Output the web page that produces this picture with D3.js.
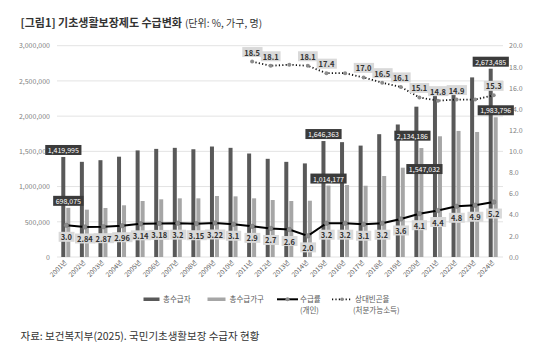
<!DOCTYPE html>
<html><head><meta charset="utf-8">
<script src="https://cdn.jsdelivr.net/npm/d3@7/dist/d3.min.js"></script>
<style>
html,body{margin:0;padding:0;background:#fff;}
svg{display:block;font-family:"Noto Sans CJK KR","Noto Sans",sans-serif;}
</style></head>
<body><svg id="c" width="559" height="359"></svg>
<script>
const years = d3.range(2001, 2025);
const recipients = [1419995,1351185,1374405,1424088,1513352,1534950,1549820,1529939,1568533,1549820,1469254,1394042,1350891,1328713,1646363,1630614,1581646,1743690,1881406,2134186,2400000,2420000,2550000,2673485];
const households = [698075,672000,696000,734000,795000,819000,833000,833000,866000,861000,833000,809000,795000,799000,1014177,1022000,1012000,1150000,1268000,1547032,1714000,1790000,1775000,1983796];
const rate = [3.0,2.84,2.87,2.96,3.14,3.18,3.2,3.15,3.22,3.1,2.9,2.7,2.6,2.0,3.2,3.2,3.1,3.2,3.6,4.1,4.4,4.8,4.9,5.2];
const rateLabels = ["3.0","2.84","2.87","2.96","3.14","3.18","3.2","3.15","3.22","3.1","2.9","2.7","2.6","2.0","3.2","3.2","3.1","3.2","3.6","4.1","4.4","4.8","4.9","5.2"];
const povYears = d3.range(2011, 2025);
const poverty = [18.5,18.1,18.2,18.1,17.4,17.4,17.0,16.5,16.1,15.1,14.8,14.9,14.9,15.3];
const povLabels = ["18.5","18.1",null,"18.1","17.4",null,"17.0","16.5","16.1","15.1","14.8","14.9",null,"15.3"];
const recipLabelYears = [2001, 2015, 2020, 2024];
const houseLabelYears = [2001, 2015, 2020, 2024];
const leftTicks = [0,500000,1000000,1500000,2000000,2500000,3000000];
const rightTicks = [0,2,4,6,8,10,12,14,16,18,20];

const svg = d3.select("#c");
const x = d3.scaleBand().domain(years).range([57, 503]).padding(0);
const yL = d3.scaleLinear().domain([0, 3000000]).range([257, 45.7]);
const yR = d3.scaleLinear().domain([0, 20]).range([257, 45.7]);
const cx = d => x(d) + x.bandwidth()/2;
const KFONT = '"Noto Sans CJK KR","Noto Sans",sans-serif';

// Title
const title = svg.append("text").attr("x", 20.5).attr("y", 27).attr("fill", "#333");
title.append("tspan").attr("font-size", 11).attr("font-weight", 700).text("[그림1] 기초생활보장제도 수급변화");
title.append("tspan").attr("font-size", 10).attr("dx", 3).text("(단위: %, 가구, 명)");

// gridlines
svg.append("g").selectAll("line").data(leftTicks).join("line")
  .attr("x1", 57).attr("x2", 503).attr("y1", d => yL(d)).attr("y2", d => yL(d))
  .attr("stroke", "#e3e3e3").attr("stroke-width", 1);

// left axis
const gl = svg.append("g").attr("transform", "translate(50,0)")
  .call(d3.axisLeft(yL).tickValues(leftTicks).tickSize(0).tickPadding(0).tickFormat(d3.format(",")));
gl.select(".domain").remove();
gl.selectAll("text").attr("font-size", 7).attr("fill", "#808080").attr("font-family", KFONT);

// right axis
const gr = svg.append("g").attr("transform", "translate(509,0)")
  .call(d3.axisRight(yR).tickValues(rightTicks).tickSize(0).tickPadding(0).tickFormat(d3.format(".1f")));
gr.select(".domain").remove();
gr.selectAll("text").attr("font-size", 7).attr("fill", "#808080").attr("font-family", KFONT);

// x labels
svg.append("g").selectAll("text").data(years).join("text")
  .attr("transform", d => `translate(${cx(d)+1},${263}) rotate(-45)`)
  .attr("text-anchor", "end").attr("font-size", 6.5).attr("fill", "#595959")
  .text(d => d + "년");

// bars
svg.append("g").selectAll("rect").data(years).join("rect")
  .attr("x", d => cx(d) - 5).attr("width", 4)
  .attr("y", (d,i) => yL(recipients[i])).attr("height", (d,i) => yL(0) - yL(recipients[i]))
  .attr("fill", "#595959");
svg.append("g").selectAll("rect").data(years).join("rect")
  .attr("x", d => cx(d)).attr("width", 4)
  .attr("y", (d,i) => yL(households[i])).attr("height", (d,i) => yL(0) - yL(households[i]))
  .attr("fill", "#a6a6a6");

// rate line
const lineR = d3.line().x((d,i) => cx(years[i])).y(d => yR(d));
svg.append("path").attr("d", lineR(rate)).attr("fill", "none").attr("stroke", "#000").attr("stroke-width", 2);
svg.append("g").selectAll("circle").data(rate).join("circle")
  .attr("cx", (d,i) => cx(years[i])).attr("cy", d => yR(d)).attr("r", 2.3)
  .attr("fill", "#8c8c8c").attr("stroke", "#6e6e6e").attr("stroke-width", 0.5);

// poverty line
const lineP = d3.line().x((d,i) => cx(povYears[i])).y(d => yR(d));
svg.append("path").attr("d", lineP(poverty)).attr("fill", "none").attr("stroke", "#111")
  .attr("stroke-width", 1.8).attr("stroke-dasharray", "1.2,2.2");
svg.append("g").selectAll("circle").data(poverty).join("circle")
  .attr("cx", (d,i) => cx(povYears[i])).attr("cy", d => yR(d)).attr("r", 2)
  .attr("fill", "#8c8c8c");

// label helper
function boxLabel(g, cxp, cyp, txt, opts) {
  const t = g.append("text").attr("x", cxp).attr("y", cyp).attr("text-anchor", "middle")
    .attr("dominant-baseline", "central").attr("font-size", opts.fs).attr("font-weight", opts.fw)
    .attr("fill", opts.color).attr("font-family", KFONT).text(txt);
  const bb = t.node().getBBox();
  g.insert("rect", () => t.node())
    .attr("x", bb.x - opts.px).attr("y", cyp - opts.h/2).attr("width", bb.width + 2*opts.px).attr("height", opts.h)
    .attr("fill", opts.bg);
}
const lab = svg.append("g");
// rate labels (below points)
rate.forEach((v,i) => boxLabel(lab, cx(years[i]), yR(v) + 11.5, rateLabels[i],
  {fs: 7.5, fw: 700, color: "#333", bg: "#d9d9d9", px: 2, h: 10}));
// poverty labels (above points)
poverty.forEach((v,i) => { if (povLabels[i]) boxLabel(lab, cx(povYears[i]), yR(v) - 9.5, povLabels[i],
  {fs: 7.5, fw: 700, color: "#333", bg: "#d9d9d9", px: 2, h: 10}); });
// bar value labels
const darkShift = {2020: {dx: -4, dy: 29}};
const lightShift = {2020: {dx: 3, dy: 21}};
recipLabelYears.forEach(yr => {
  const i = years.indexOf(yr); const s = darkShift[yr] || {dx: 0, dy: -7};
  boxLabel(lab, cx(yr) - 3 + s.dx, yL(recipients[i]) + s.dy, d3.format(",")(recipients[i]),
    {fs: 7, fw: 400, color: "#fff", bg: "#3b3b3b", px: 2.5, h: 10});
});
houseLabelYears.forEach(yr => {
  const i = years.indexOf(yr); const s = lightShift[yr] || {dx: 0, dy: -7};
  boxLabel(lab, cx(yr) + 2 + s.dx, yL(households[i]) + s.dy, d3.format(",")(households[i]),
    {fs: 7, fw: 400, color: "#fff", bg: "#3b3b3b", px: 2.5, h: 10});
});

// legend
const lg = svg.append("g").attr("font-size", 7.5).attr("fill", "#595959");
lg.append("rect").attr("x", 143.5).attr("y", 297.5).attr("width", 16).attr("height", 3.5).attr("fill", "#595959");
lg.append("text").attr("x", 163).attr("y", 302).text("총수급자");
lg.append("rect").attr("x", 207.5).attr("y", 297.5).attr("width", 18).attr("height", 3.5).attr("fill", "#a6a6a6");
lg.append("text").attr("x", 229.5).attr("y", 302).text("총수급가구");
lg.append("line").attr("x1", 277).attr("x2", 298).attr("y1", 299.3).attr("y2", 299.3).attr("stroke", "#000").attr("stroke-width", 2);
lg.append("circle").attr("cx", 287.5).attr("cy", 299.3).attr("r", 2).attr("fill", "#8c8c8c");
lg.append("text").attr("x", 300).attr("y", 302).text("수급률");
lg.append("text").attr("x", 300).attr("y", 313).text("(개인)");
lg.append("line").attr("x1", 332).attr("x2", 352).attr("y1", 299.3).attr("y2", 299.3).attr("stroke", "#111").attr("stroke-width", 1.8).attr("stroke-dasharray", "1.2,2.2");
lg.append("circle").attr("cx", 342).attr("cy", 299.3).attr("r", 1.8).attr("fill", "#8c8c8c");
lg.append("text").attr("x", 355).attr("y", 302).text("상대빈곤율");
lg.append("text").attr("x", 353).attr("y", 313).text("(처분가능소득)");

// footer
svg.append("text").attr("x", 20.5).attr("y", 340).attr("font-size", 10.5).attr("fill", "#333")
  .text("자료: 보건복지부(2025). 국민기초생활보장 수급자 현황");
</script></body></html>
